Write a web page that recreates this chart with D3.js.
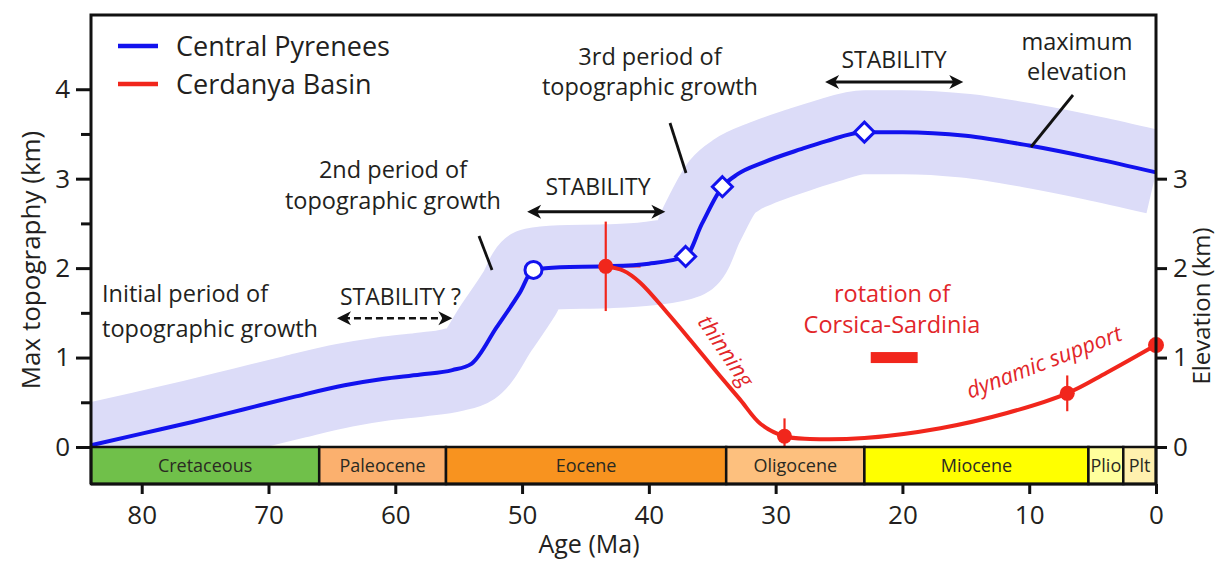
<!DOCTYPE html>
<html>
<head>
<meta charset="utf-8">
<script src="https://cdnjs.cloudflare.com/ajax/libs/d3/7.8.5/d3.min.js"></script>
<style>
  html, body { margin: 0; padding: 0; background: #fff; }
  svg { display: block; font-family: "Open Sans", sans-serif; }
</style>
</head>
<body>
<svg id="chart" width="1217" height="562"></svg>
<script>
// ---------------- DATA ----------------
const epochNames = ["Cretaceous", "Paleocene", "Eocene", "Oligocene", "Miocene", "Plio", "Plt"];
const epochStart = [84, 66, 56, 33.9, 23, 5.33, 2.58];
const epochEnd   = [66, 56, 33.9, 23, 5.33, 2.58, 0];
const epochColors = ["#70c04a", "#fbb06e", "#f8931f", "#fdc07e", "#ffff00", "#ffff9c", "#fff0ae"];

// Central Pyrenees maximum topography (km) vs age (Ma)
const pyrAge  = [84, 80, 76, 72, 68, 64, 61, 58, 55.5, 54, 52, 50.2, 49.1, 47, 43.4, 40, 37.1, 35.8, 34.2, 33, 31, 28, 26, 23, 20, 15, 10, 5, 0];
const pyrElev = [0.02, 0.15, 0.28, 0.42, 0.56, 0.69, 0.76, 0.81, 0.86, 0.93, 1.34, 1.72, 1.98, 2.01, 2.02, 2.05, 2.13, 2.50, 2.91, 3.05, 3.18, 3.33, 3.42, 3.52, 3.52, 3.48, 3.37, 3.23, 3.07];
// markers on the Central Pyrenees curve
const pyrMarkAge   = [49.1, 37.1, 34.2, 23];
const pyrMarkElev  = [1.98, 2.13, 2.91, 3.52];
const pyrMarkShape = ["circle", "diamond", "diamond", "diamond"];

// Cerdanya Basin elevation (km) vs age (Ma)
const cerAge  = [43.4, 42.0, 40.7, 38.6, 36.75, 34.6, 32.8, 31.2, 29.3, 27.3, 23, 17, 11.75, 7.0, 3.9, 0];
const cerElev = [2.02, 1.97, 1.84, 1.51, 1.20, 0.83, 0.53, 0.26, 0.12, 0.09, 0.10, 0.21, 0.38, 0.60, 0.83, 1.14];
// Cerdanya data points with error bars
const cerPtAge  = [43.4, 29.3, 7.0, 0];
const cerPtElev = [2.02, 0.12, 0.60, 1.14];
const cerPtErrY = [0.5, 0.2, 0.2, 0];
const cerPtErrX = [2.75, 0, 0, 0];

// rotation of Corsica-Sardinia (age range, Ma) and its level (km)
const rotAge = [22.5, 18.8];
const rotLevel = 1.0;

const xTicks = [80, 70, 60, 50, 40, 30, 20, 10, 0];
const yTicksLeft = [0, 1, 2, 3, 4];
const yMinorLeft = [0.5, 1.5, 2.5, 3.5];
const yTicksRight = [0, 1, 2, 3];

// ---------------- LAYOUT ----------------
const svg = d3.select("#chart");
const L = 91, R = 1156, T = 15, B = 447, barB = 484;
const x = d3.scaleLinear().domain([84, 0]).range([L, R]);
const y = d3.scaleLinear().domain([0, 4.83]).range([B, T]);

const BLUE = "#1212ee", RED = "#f1261c", TXT = "#231f20", RTXT = "#e2262a";

svg.append("defs").append("clipPath").attr("id", "plotClip")
  .append("rect").attr("x", L).attr("y", T).attr("width", R - L).attr("height", B - T);

const pyr = pyrAge.map((a, i) => [a, pyrElev[i]]);
const cer = cerAge.map((a, i) => [a, cerElev[i]]);
const line = d3.line().x(d => x(d[0])).y(d => y(d[1])).curve(d3.curveMonotoneX);
const lineSmooth = d3.line().x(d => x(d[0])).y(d => y(d[1])).curve(d3.curveCatmullRom.alpha(0.5));

// band
svg.append("path").attr("d", line(pyr)).attr("clip-path", "url(#plotClip)")
  .attr("fill", "none").attr("stroke", "#dcdcf8").attr("stroke-width", 84)
  .attr("stroke-linejoin", "round").attr("stroke-linecap", "butt");

// red error bars
const eb = svg.append("g").attr("stroke", RED).attr("stroke-width", 2.2);
cerPtAge.forEach((a, i) => {
  if (cerPtErrY[i] > 0) eb.append("line").attr("x1", x(a)).attr("x2", x(a))
    .attr("y1", y(cerPtElev[i] + cerPtErrY[i])).attr("y2", y(cerPtElev[i] - cerPtErrY[i]));
  if (cerPtErrX[i] > 0) eb.append("line").attr("y1", y(cerPtElev[i])).attr("y2", y(cerPtElev[i]))
    .attr("x1", x(a + cerPtErrX[i])).attr("x2", x(a - cerPtErrX[i]));
});

// blue line
svg.append("path").attr("d", line(pyr)).attr("fill", "none").attr("stroke", BLUE)
  .attr("stroke-width", 4).attr("stroke-linejoin", "round");

// red line
svg.append("path").attr("d", lineSmooth(cer)).attr("fill", "none").attr("stroke", RED)
  .attr("stroke-width", 4).attr("stroke-linejoin", "round");

// red points
svg.append("g").selectAll("circle").data(cerPtAge).join("circle")
  .attr("cx", d => x(d)).attr("cy", (d, i) => y(cerPtElev[i]))
  .attr("r", (d, i) => i === 3 ? 8 : 7.5).attr("fill", RED);

// blue markers
const mk = svg.append("g");
pyrMarkAge.forEach((a, i) => {
  const cx = x(a), cy = y(pyrMarkElev[i]);
  if (pyrMarkShape[i] === "circle") {
    mk.append("circle").attr("cx", cx).attr("cy", cy).attr("r", 8.5)
      .attr("fill", "#fff").attr("stroke", BLUE).attr("stroke-width", 3);
  } else {
    const s = 10;
    mk.append("path").attr("d", `M${cx},${cy - s}L${cx + s},${cy}L${cx},${cy + s}L${cx - s},${cy}Z`)
      .attr("fill", "#fff").attr("stroke", BLUE).attr("stroke-width", 3);
  }
});

// rotation bar
svg.append("rect").attr("x", x(rotAge[0])).attr("width", x(rotAge[1]) - x(rotAge[0]))
  .attr("y", y(rotLevel) - 5.5).attr("height", 11).attr("fill", RED);

// epoch bar
const eg = svg.append("g");
epochNames.forEach((n, i) => {
  const x0 = x(epochStart[i]), x1 = x(epochEnd[i]);
  eg.append("rect").attr("x", x0).attr("y", B).attr("width", x1 - x0).attr("height", barB - B)
    .attr("fill", epochColors[i]).attr("stroke", "#111").attr("stroke-width", 2.5);
  eg.append("text").attr("x", (x0 + x1) / 2).attr("y", (B + barB) / 2).attr("dy", "0.36em")
    .attr("text-anchor", "middle").attr("font-size", 18).attr("fill", "#2a2a22").text(n);
});

// frame
svg.append("path").attr("d", `M${L},${barB}V${T}H${R}V${barB}H${L}`)
  .attr("fill", "none").attr("stroke", "#111").attr("stroke-width", 3);

// axes
function styleAxis(g, fs) {
  g.select(".domain").remove();
  g.selectAll(".tick line").attr("stroke", "#111").attr("stroke-width", 3);
  g.selectAll(".tick text").attr("font-size", fs).attr("fill", TXT)
    .attr("font-family", "'Open Sans', sans-serif");
}
svg.append("g").attr("transform", `translate(${L},0)`)
  .call(d3.axisLeft(y).tickValues(yTicksLeft).tickSize(15).tickPadding(6).tickFormat(d3.format("d")))
  .call(g => styleAxis(g, 26));
svg.append("g").attr("transform", `translate(${L},0)`)
  .call(d3.axisLeft(y).tickValues(yMinorLeft).tickSize(10).tickFormat(""))
  .call(g => styleAxis(g, 26));
svg.append("g").attr("transform", `translate(${R},0)`)
  .call(d3.axisRight(y).tickValues(yTicksRight).tickSize(11).tickPadding(6).tickFormat(d3.format("d")))
  .call(g => styleAxis(g, 26));
svg.append("g").attr("transform", `translate(0,${barB})`)
  .call(d3.axisBottom(x).tickValues(xTicks).tickSize(10).tickPadding(12).tickFormat(d3.format("d")))
  .call(g => styleAxis(g, 26));

// axis titles
svg.append("text").attr("transform", "translate(40,260) rotate(-90)").attr("text-anchor", "middle")
  .attr("font-size", 26).attr("fill", TXT).text("Max topography (km)");
svg.append("text").attr("transform", "translate(1210,306) rotate(-90)").attr("text-anchor", "middle")
  .attr("font-size", 24).attr("fill", TXT).text("Elevation (km)");
svg.append("text").attr("x", 589).attr("y", 553).attr("text-anchor", "middle")
  .attr("font-size", 25).attr("fill", TXT).text("Age (Ma)");

// legend
const lg = svg.append("g");
[["Central Pyrenees", BLUE, 46], ["Cerdanya Basin", RED, 84]].forEach(([t, c, yy]) => {
  lg.append("line").attr("x1", 118).attr("x2", 158).attr("y1", yy).attr("y2", yy)
    .attr("stroke", c).attr("stroke-width", 4.5);
  lg.append("text").attr("x", 176).attr("y", yy + 10).attr("font-size", 27).attr("fill", TXT).text(t);
});

// annotations
function txt(lines, xx, yy, anchor, color, fs, lh) {
  const t = svg.append("text").attr("font-size", fs).attr("fill", color).attr("text-anchor", anchor);
  lines.forEach((s, i) => t.append("tspan").attr("x", xx).attr("y", yy + i * lh).text(s));
  return t;
}
txt(["Initial period of", "topographic growth"], 102, 302, "start", TXT, 23.5, 35);
txt(["2nd period of", "topographic growth"], 393, 178, "middle", TXT, 23.5, 31);
txt(["3rd period of", "topographic growth"], 650, 65, "middle", TXT, 23.5, 30);
txt(["maximum", "elevation"], 1077, 50, "middle", TXT, 23.5, 30);
txt(["STABILITY ?"], 340, 305, "start", TXT, 23, 30);
txt(["STABILITY"], 598, 195, "middle", TXT, 23, 30);
txt(["STABILITY"], 894, 68, "middle", TXT, 23, 30);
txt(["rotation of", "Corsica-Sardinia"], 892, 302, "middle", RTXT, 23.5, 31);

svg.append("text").attr("transform", "translate(726,351) rotate(56)").attr("text-anchor", "middle")
  .attr("dy", "0.35em").attr("font-size", 22).attr("font-style", "italic").attr("fill", RTXT).text("thinning");
svg.append("text").attr("transform", "translate(1044,362) rotate(-21)").attr("text-anchor", "middle")
  .attr("dy", "0.35em").attr("font-size", 22).attr("font-style", "italic").attr("fill", RTXT).text("dynamic support");

// leader lines
const ll = svg.append("g").attr("stroke", "#111").attr("stroke-width", 2.8);
ll.append("line").attr("x1", 479).attr("y1", 236).attr("x2", 492).attr("y2", 270);
ll.append("line").attr("x1", 670).attr("y1", 123).attr("x2", 686).attr("y2", 173);
ll.append("line").attr("x1", 1073).attr("y1", 95).attr("x2", 1031).attr("y2", 147);

// double arrows (age range, level in km)
function dblArrow(a0, a1, lev, dashed) {
  const x0 = x(a0), x1 = x(a1), yy = y(lev), g = svg.append("g");
  g.append("line").attr("x1", x0 + 6).attr("x2", x1 - 6).attr("y1", yy).attr("y2", yy)
    .attr("stroke", "#111").attr("stroke-width", dashed ? 2.5 : 3)
    .attr("stroke-dasharray", dashed ? "7,4" : null);
  const h = 14, w = 7;
  g.append("path").attr("d", `M${x0},${yy}L${x0 + h},${yy - w}L${x0 + h - 4},${yy}L${x0 + h},${yy + w}Z`).attr("fill", "#111");
  g.append("path").attr("d", `M${x1},${yy}L${x1 - h},${yy - w}L${x1 - h + 4},${yy}L${x1 - h},${yy + w}Z`).attr("fill", "#111");
}
dblArrow(64.6, 55.5, 1.44, true);
dblArrow(49.6, 38.7, 2.63, false);
dblArrow(26.1, 15.2, 4.08, false);
</script>
</body>
</html>
